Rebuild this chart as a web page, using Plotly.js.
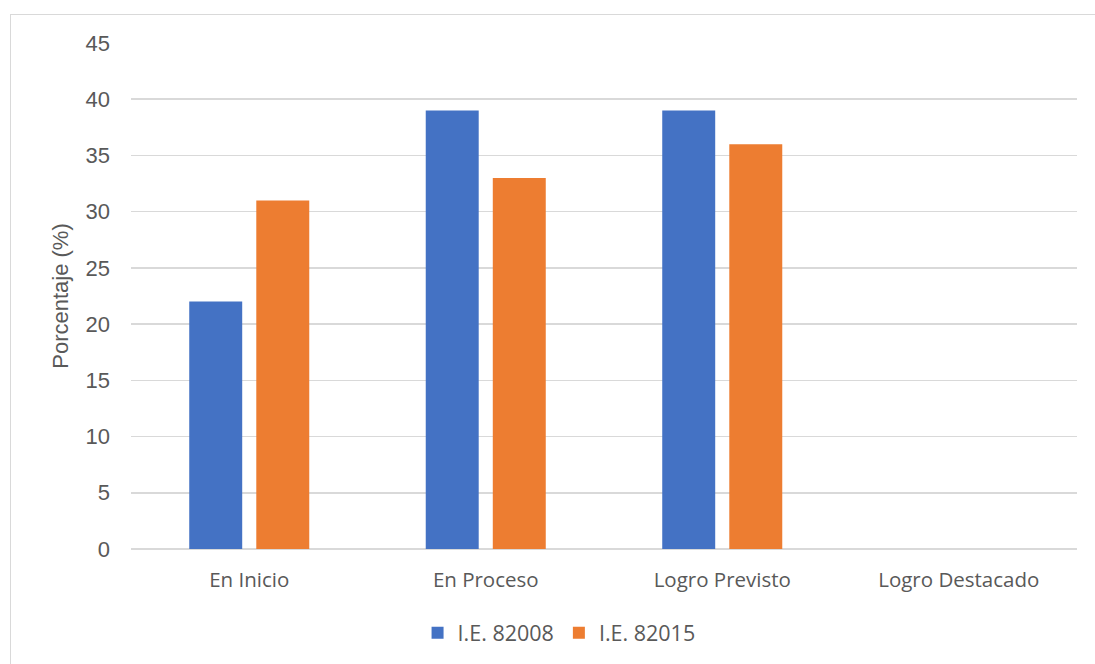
<!DOCTYPE html>
<html>
<head>
<meta charset="utf-8">
<script src="https://cdn.plot.ly/plotly-3.0.1.min.js"></script>
<style>
  html, body { margin: 0; padding: 0; background: #fff; }
  #wrap { position: relative; width: 1095px; height: 664px; overflow: hidden; }
  #chart { position: absolute; left: 0; top: 0; width: 1095px; height: 664px; }
  #frame { position: absolute; left: 10px; top: 14px; width: 1100px; height: 700px;
           border: 1px solid #d9d9d9; pointer-events: none; box-sizing: border-box; }
</style>
</head>
<body>
<div id="wrap">
  <div id="chart"></div>
  <div id="frame"></div>
</div>
<script>
const categories = ["En Inicio", "En Proceso", "Logro Previsto", "Logro Destacado"];
const seriesNames = ["I.E. 82008", "I.E. 82015"];
const values82008 = [22, 39, 39, 0];
const values82015 = [31, 33, 36, 0];
const yTicks = [0, 5, 10, 15, 20, 25, 30, 35, 40, 45];

const traces = [
  { type: "bar", name: seriesNames[0], x: categories, y: values82008,
    marker: { color: "#4472c4" }, hoverinfo: "y" },
  { type: "bar", name: seriesNames[1], x: categories, y: values82015,
    marker: { color: "#ed7d31" }, hoverinfo: "y" }
];

const layout = {
  width: 1095, height: 664,
  margin: { l: 131, r: 18, t: 43, b: 115, autoexpand: false },
  paper_bgcolor: "rgba(0,0,0,0)",
  plot_bgcolor: "#fff",
  barmode: "group",
  bargap: 0.433,
  bargroupgap: 0.21,
  showlegend: true,
  legend: {
    orientation: "h", xref: "paper", x: 0.4525, xanchor: "center",
    yref: "container", y: 0.047, yanchor: "middle",
    font: { family: "Open Sans, Noto Sans, sans-serif", size: 21.5, color: "#595959" },
    itemwidth: 30, traceorder: "normal"
  },
  xaxis: {
    type: "category", automargin: false,
    tickfont: { family: "Open Sans, Noto Sans, sans-serif", size: 20.5, color: "#595959" },
    showline: false, showgrid: false, zeroline: false,
    ticks: "", ticklabelstandoff: 16
  },
  yaxis: {
    range: [0, 45], automargin: false,
    tickvals: yTicks,
    ticktext: yTicks.map(String),
    tickfont: { family: "Liberation Sans, Arial, sans-serif", size: 22, color: "#595959" },
    showgrid: true, gridcolor: "#d9d9d9", gridwidth: 1.5,
    zeroline: true, zerolinecolor: "#d9d9d9", zerolinewidth: 1.5,
    showline: false, ticks: "", ticklabelstandoff: 20,
    title: { text: "Porcentaje (%)", standoff: 10,
      font: { family: "Liberation Sans, Arial, sans-serif", size: 22, color: "#595959" } }
  }
};

Plotly.newPlot("chart", traces, layout, { displayModeBar: false, staticPlot: true });
</script>
</body>
</html>
